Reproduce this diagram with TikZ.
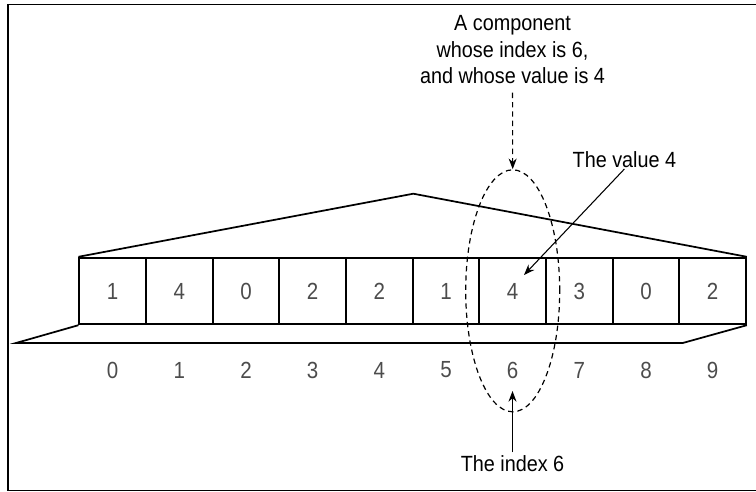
\documentclass[tikz,border=0pt]{standalone}
\usepackage{fontspec}
\setmainfont{Liberation Sans}
\newfontfamily\digitfont[FakeStretch=0.88]{Liberation Sans}
\newfontfamily\capfont[FakeStretch=0.9]{Liberation Sans}
\usetikzlibrary{arrows.meta,shapes.geometric}
\tikzset{
  thick line/.style={line width=1.3pt},
  cellbox/.style={draw, thick line, minimum width=50pt, minimum height=50pt, inner sep=0pt,
    font=\digitfont\fontsize{17.5}{17.5}\selectfont, text=black!70},
  idxlabel/.style={inner sep=0pt, font=\digitfont\fontsize{17.5}{17.5}\selectfont, text=black!70},
  caption/.style={inner sep=2pt, align=center, font=\capfont\fontsize{16.5}{19.9}\selectfont},
  ptr/.style={line width=0.8pt, -{Stealth[length=8pt,width=6pt]}},
  dashpat/.style={dash pattern=on 4pt off 3pt},
}
\begin{document}
\begin{tikzpicture}[x=0.75pt,y=-0.75pt]
\useasboundingbox (0,0) rectangle (756,492);
\clip (0,0) rectangle (756,492);
\draw[line width=1.1pt] (8,4.5) rectangle (775,490.5);
% cells
\foreach \v [count=\i from 0] in {1,4,0,2,2,1,4,3,0,2}
  \node[cellbox] (c\i) at ({79.3+66.67*(\i+0.5)},291) {\v};
\foreach \i in {0,...,9}
  \node[idxlabel] (n\i) at ({79.3+66.67*(\i+0.5)},370) {\i};
% roof and floor
\coordinate (apex) at (413.3,193.7);
\coordinate (fl) at (16,343);
\coordinate (fr) at (682.7,343);
\draw[thick line, line join=miter] (c0.north west) -- (apex) -- (c9.north east);
\draw[thick line] (c0.south west) -- (fl) -- (fr) -- (c9.south east);
% ellipse
\node[draw, dashpat, line width=0.9pt, ellipse, minimum width=70.5pt, minimum height=181.5pt, inner sep=0pt] (oval) at (512.7,290.8) {};
% captions
\node[caption] (comp) at (512.5,50) {A component\\whose index is 6,\\and whose value is 4};
\node[caption] (val) at (624.4,160) {The value 4};
\node[caption] (idx) at (512.5,463.5) {The index 6};
\coordinate (valtip) at (524,275);
\coordinate (idxtip) at (512.5,391);
\draw[ptr, dashpat] (512.5,92.7) -- (oval.north);
\draw[ptr] (val.south) ++(0,-2) -- (valtip);
\draw[ptr] (idx.north) -- (idxtip);
\end{tikzpicture}
\end{document}
